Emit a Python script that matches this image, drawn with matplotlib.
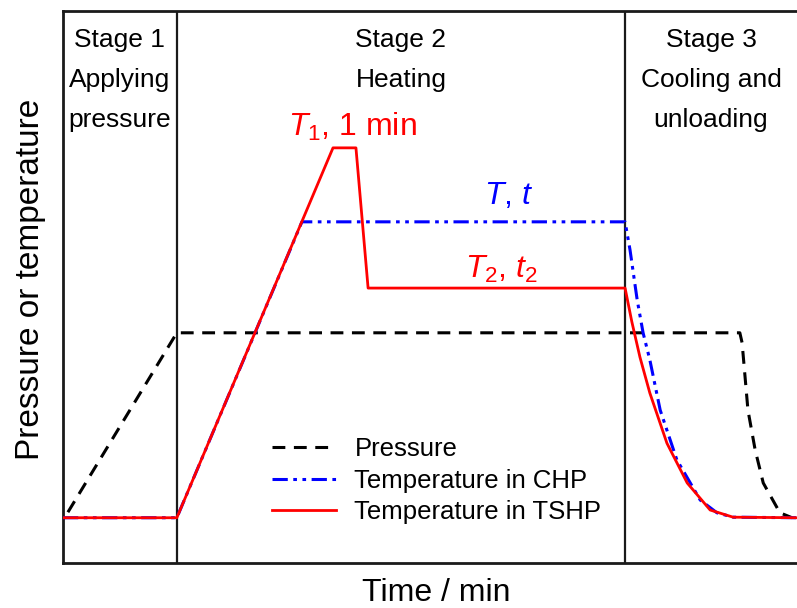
import matplotlib
matplotlib.use("Agg")
import matplotlib.pyplot as plt

plt.rcParams['font.family'] = ['Liberation Sans', 'DejaVu Sans']
plt.rcParams['mathtext.fontset'] = 'custom'
plt.rcParams['mathtext.rm'] = 'Liberation Sans'
plt.rcParams['mathtext.it'] = 'Liberation Sans:italic'

# Schematic process curves (time in arbitrary minutes, level in arbitrary units)
stage_bounds = [2.53, 12.49]
x_max = 16.31

pressure_t = [0.11, 2.53, 15.04, 15.09, 15.22, 15.38, 15.56, 15.93, 16.20]
pressure_v = [0.92, 4.17, 4.17, 3.99, 2.77, 2.05, 1.45, 0.91, 0.82]

chp_t = [0.0, 2.53, 5.31, 12.49, 12.60, 12.76, 12.89, 13.04, 13.27, 13.64, 14.16, 14.53, 14.89, 16.31]
chp_v = [0.82, 0.82, 6.18, 6.18, 5.67, 4.76, 4.17, 3.68, 2.77, 1.87, 1.14, 0.91, 0.83, 0.82]

tshp_t = [0.0, 2.53, 6.00, 6.51, 6.78, 12.49, 12.64, 12.82, 13.04, 13.42, 13.87, 14.38, 14.89, 16.31]
tshp_v = [0.82, 0.82, 7.52, 7.52, 4.98, 4.98, 4.37, 3.73, 3.08, 2.17, 1.45, 0.96, 0.83, 0.82]

stage_labels = ["Stage 1\nApplying\npressure", "Stage 2\nHeating", "Stage 3\nCooling and\nunloading"]
legend_labels = ["Pressure", "Temperature in CHP", "Temperature in TSHP"]

fig = plt.figure(figsize=(7.97, 6.08), dpi=100)
ax = fig.add_axes([0.079, 0.074, 0.921, 0.908])
ax.set_xlim(0, x_max)
ax.set_ylim(0, 10)

ax.plot(pressure_t, pressure_v, color='black', lw=2.2, linestyle=(0, (4.2, 2.8)),
        label=legend_labels[0], zorder=3)
ax.plot(chp_t, chp_v, color='#0000ff', lw=2.2,
        linestyle=(0, (5, 1.8, 1.2, 1.8, 1.2, 1.8)), label=legend_labels[1], zorder=4)
ax.plot(tshp_t, tshp_v, color='#ff0000', lw=2.0, label=legend_labels[2], zorder=5)

for xb in stage_bounds:
    ax.axvline(xb, color='#1a1a1a', lw=1.6, zorder=2)

edges = [0.0] + stage_bounds + [x_max]
for i, lab in enumerate(stage_labels):
    xc = 0.5 * (edges[i] + edges[i + 1])
    ax.text(xc, 9.70, lab, ha='center', va='top', fontsize=19, linespacing=1.85)

ax.text(6.43, 7.74, r'$\mathit{T}_1$, 1 min', color='#ff0000', ha='center',
        va='baseline', fontsize=23)
ax.text(9.9, 6.50, r'$\mathit{T}$, $\mathit{t}$', color='#0000ff', ha='center',
        va='baseline', fontsize=23)
ax.text(9.75, 5.17, r'$\mathit{T}_2$, $\mathit{t}_2$', color='#ff0000', ha='center',
        va='baseline', fontsize=23)

ax.set_xlabel("Time / min", fontsize=23, labelpad=11)
ax.xaxis.label.set_x(0.508)
ax.set_ylabel("Pressure or temperature", fontsize=24, labelpad=12)
ax.yaxis.label.set_y(0.514)
ax.set_xticks([])
ax.set_yticks([])
ax.spines['right'].set_visible(False)
for s in ['left', 'top', 'bottom']:
    ax.spines[s].set_linewidth(2.0)
    ax.spines[s].set_color('#1a1a1a')

ax.legend(loc='center left', bbox_to_anchor=(0.285, 0.149), frameon=False,
          fontsize=18.5, handlelength=2.5, handletextpad=0.7, labelspacing=0.3,
          borderpad=0, borderaxespad=0)

fig.savefig("out.png", dpi=100)
